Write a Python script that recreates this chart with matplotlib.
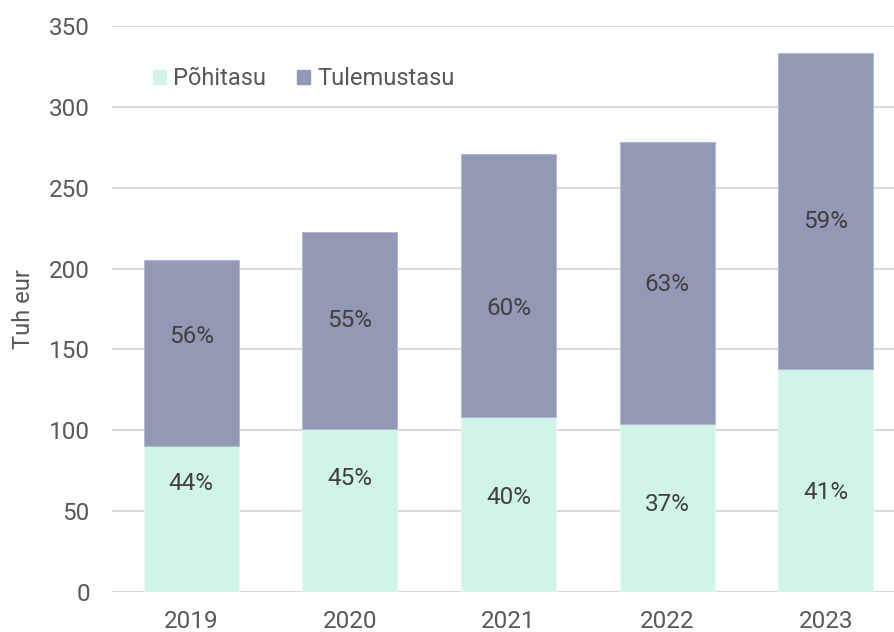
import matplotlib.pyplot as plt
from matplotlib.patches import Patch

plt.rcParams['font.family'] = ['Roboto', 'DejaVu Sans']

years = ['2019', '2020', '2021', '2022', '2023']
pohitasu = [90.3, 100.8, 108.2, 103.9, 137.9]
tulemustasu = [115.0, 121.8, 162.7, 174.4, 195.4]
pct_base = ['44%', '45%', '40%', '37%', '41%']
pct_top = ['56%', '55%', '60%', '63%', '59%']
# label heights as placed in the original chart
pos_base = [66.8, 69.9, 58.7, 53.8, 61.8]
pos_top = [157.7, 168.0, 175.6, 189.9, 229.4]

c_base = '#d1f4ea'
c_top = '#9399b4'
fs = 17.5

fig = plt.figure(figsize=(8.95, 6.32), dpi=100)
ax = fig.add_axes([112/895, 40/632, 793/895, 566/632])

x = range(len(years))
ax.bar(x, pohitasu, width=0.6, color=c_base, edgecolor='#e4f8f2', linewidth=0.8, zorder=2)
ax.bar(x, tulemustasu, width=0.6, bottom=pohitasu, color=c_top, edgecolor='#b4bad0',
       linewidth=0.8, zorder=2)

for i in x:
    ax.text(i, pos_base[i], pct_base[i], ha='center', va='center', fontsize=fs, color='#404040')
    ax.text(i, pos_top[i], pct_top[i], ha='center', va='center', fontsize=fs, color='#404040')

ax.set_xlim(-0.5, 4.5)
ax.set_ylim(0, 350)
ax.set_yticks(range(0, 351, 50))
ax.set_xticks(list(x))
ax.set_xticklabels(years)
ax.grid(axis='y', color='#d9d9d9', linewidth=1.5, zorder=0)
for s in ax.spines.values():
    s.set_visible(False)
ax.tick_params(length=0, labelsize=fs, colors='#595959')
ax.tick_params(axis='y', pad=16)
ax.tick_params(axis='x', pad=13)
ax.set_ylabel('Tuh eur', fontsize=17, color='#595959', labelpad=10)

handles = [Patch(color=c_base, label='Põhitasu'), Patch(color=c_top, label='Tulemustasu')]
leg = ax.legend(handles=handles, loc='upper left', bbox_to_anchor=(0.025, 0.965), ncol=2,
                frameon=False, fontsize=17, handlelength=0.55, handleheight=0.55,
                handletextpad=0.3, columnspacing=1.3)
for t in leg.get_texts():
    t.set_color('#595959')

fig.savefig('out.png', dpi=100)
